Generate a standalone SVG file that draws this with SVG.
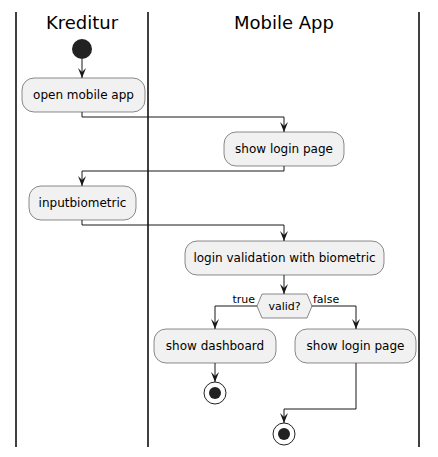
<svg xmlns="http://www.w3.org/2000/svg" width="438" height="457" viewBox="0 0 438 457">
<defs>
<style>
.lane{stroke:#000;stroke-width:1.5;}
.title{font-family:"DejaVu Sans",sans-serif;font-size:18px;fill:#000;text-anchor:middle;}
.box{fill:#F1F1F1;stroke:#181818;stroke-width:0.5;}
.t{font-family:"DejaVu Sans",sans-serif;font-size:12px;fill:#000;text-anchor:middle;}
.s{font-family:"DejaVu Sans",sans-serif;font-size:11px;fill:#000;}
.edge{fill:none;stroke:#181818;stroke-width:1;}
</style>
<marker id="arr" viewBox="0 0 10 10" refX="10" refY="5" markerWidth="10" markerHeight="10" markerUnits="userSpaceOnUse" orient="auto">
<path d="M0,1 L10,5 L0,9 L4,5 Z" fill="#181818"/>
</marker>
</defs>
<rect width="438" height="457" fill="#fff"/>
<g id="lanes">
<line class="lane" x1="16" y1="12" x2="16" y2="447"/>
<line class="lane" x1="148" y1="12" x2="148" y2="447"/>
<line class="lane" x1="419" y1="12" x2="419" y2="447"/>
<text class="title" x="82" y="29">Kreditur</text>
<text class="title" x="284" y="29">Mobile App</text>
</g>
<g id="connectors">
<path class="edge" d="M82,59 V78" marker-end="url(#arr)"/>
<path class="edge" d="M82,112 V117 H284 V132" marker-end="url(#arr)"/>
<path class="edge" d="M284,166 V171 H82 V186" marker-end="url(#arr)"/>
<path class="edge" d="M82,220 V225 H284 V241" marker-end="url(#arr)"/>
<path class="edge" d="M284,274 V294" marker-end="url(#arr)"/>
<path class="edge" d="M257,306 H215 V329" marker-end="url(#arr)"/>
<path class="edge" d="M311,306 H356 V329" marker-end="url(#arr)"/>
<path class="edge" d="M215,362 V382" marker-end="url(#arr)"/>
<path class="edge" d="M356,362 V409 H284 V423" marker-end="url(#arr)"/>
<text class="s" x="255" y="303" text-anchor="end">true</text>
<text class="s" x="313" y="303">false</text>
</g>
<g id="start"><circle cx="82" cy="49" r="10" fill="#222"/></g>
<g id="open_mobile_app"><rect class="box" x="22" y="78" width="123" height="34" rx="12"/><text class="t" x="83.5" y="99">open mobile app</text></g>
<g id="show_login_page_1"><rect class="box" x="224" y="132" width="120" height="34" rx="12"/><text class="t" x="284" y="153">show login page</text></g>
<g id="inputbiometric"><rect class="box" x="29" y="186" width="107" height="34" rx="12"/><text class="t" x="82.5" y="207">inputbiometric</text></g>
<g id="login_validation"><rect class="box" x="185" y="241" width="199" height="34" rx="12"/><text class="t" x="284.5" y="262">login validation with biometric</text></g>
<g id="valid"><polygon points="257,306 262,294 307,294 312,306 307,318 262,318" fill="#F1F1F1" stroke="#181818" stroke-width="0.5"/><text class="s" x="284.5" y="310" text-anchor="middle">valid?</text></g>
<g id="show_dashboard"><rect class="box" x="154" y="329" width="122" height="34" rx="12"/><text class="t" x="215" y="350">show dashboard</text></g>
<g id="show_login_page_2"><rect class="box" x="295" y="329" width="121" height="34" rx="12"/><text class="t" x="355.5" y="350">show login page</text></g>
<g id="stop1"><circle cx="215" cy="393" r="11" fill="none" stroke="#222" stroke-width="1"/><circle cx="215" cy="393" r="6" fill="#222"/></g>
<g id="stop2"><circle cx="284" cy="434" r="11" fill="none" stroke="#222" stroke-width="1"/><circle cx="284" cy="434" r="6" fill="#222"/></g>
</svg>
